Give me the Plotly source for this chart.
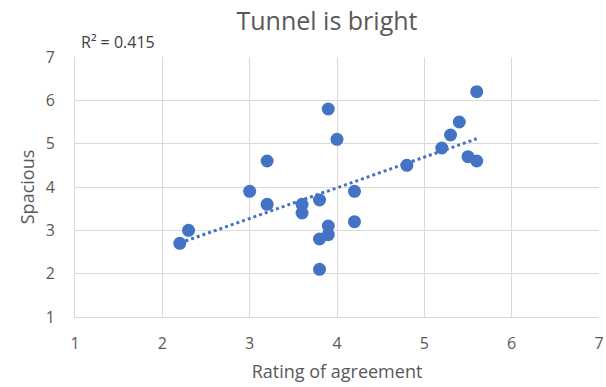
import numpy as np
import plotly.graph_objects as go

rating = [2.2, 2.3, 3.0, 3.2, 3.2, 3.6, 3.6, 3.8, 3.8, 3.8, 3.9, 3.9, 3.9, 4.0,
          4.2, 4.2, 4.8, 5.2, 5.3, 5.4, 5.5, 5.6, 5.6]
spacious = [2.7, 3.0, 3.9, 3.6, 4.6, 3.6, 3.4, 3.7, 2.8, 2.1, 3.1, 2.9, 5.8, 5.1,
            3.9, 3.2, 4.5, 4.9, 5.2, 5.5, 4.7, 4.6, 6.2]
r2_label = "R² = 0.415"
tick_vals = [1, 2, 3, 4, 5, 6, 7]

slope, intercept = np.polyfit(rating, spacious, 1)
tx = [min(rating), max(rating)]
ty = [slope * v + intercept for v in tx]

blue = "#4472C4"
font = "Open Sans, Liberation Sans, sans-serif"
grey = "#595959"

fig = go.Figure()
fig.add_trace(go.Scatter(x=tx, y=ty, mode="lines",
                         line=dict(color=blue, width=3, dash="dot"),
                         hoverinfo="skip", showlegend=False))
fig.add_trace(go.Scatter(x=rating, y=spacious, mode="markers",
                         marker=dict(color=blue, size=13, line=dict(width=0)),
                         showlegend=False))

fig.update_layout(
    width=606, height=387,
    margin=dict(l=75, r=7, t=57, b=70),
    paper_bgcolor="white", plot_bgcolor="white",
    font=dict(family=font, color=grey, size=15),
    title=dict(text="Tunnel is bright", x=327/606, xanchor="center",
               y=1 - 21/387, yanchor="middle", automargin=False,
               font=dict(size=25, color=grey, family=font)),
    xaxis=dict(range=[1, 7], tickvals=tick_vals, showgrid=True, gridcolor="#d9d9d9",
               gridwidth=1, zeroline=False, showline=True, linecolor="#d9d9d9",
               mirror=False, ticks="", automargin=False, ticklabeloverflow="allow",
               ticklabelstandoff=12, tickfont=dict(size=16, color=grey),
               title=dict(text="Rating of agreement", font=dict(size=18, color=grey),
                          standoff=12)),
    yaxis=dict(range=[1, 7], tickvals=tick_vals, showgrid=True, gridcolor="#d9d9d9",
               gridwidth=1, zeroline=False, showline=True, linecolor="#d9d9d9",
               ticks="", ticklabelstandoff=16, automargin=False,
               tickfont=dict(size=16, color=grey),
               title=dict(text="Spacious", font=dict(size=18, color=grey),
                          standoff=6)),
    annotations=[dict(text=r2_label, xref="paper", yref="paper",
                      x=0.0, y=1.0, xanchor="left", yanchor="bottom", xshift=4, yshift=2,
                      showarrow=False, font=dict(size=16, color="#404040", family=font))],
)

fig.write_html("out.html", config={"displayModeBar": False},
               post_script="document.body.style.margin='0';")
